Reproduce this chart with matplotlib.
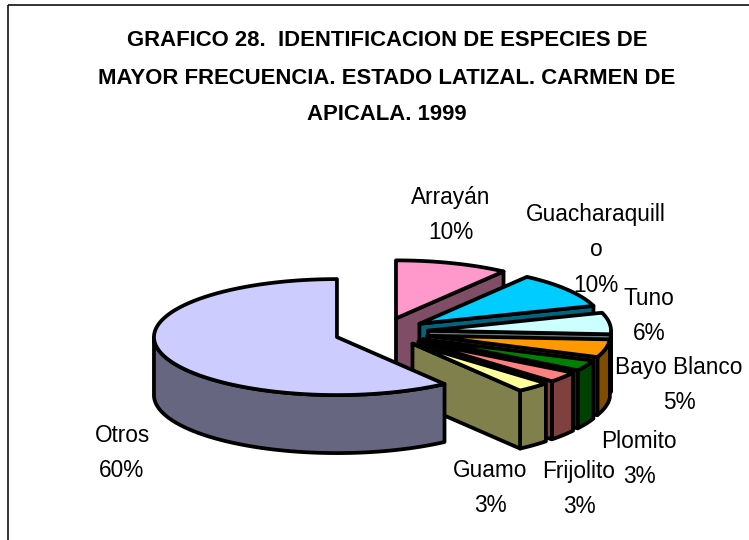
import numpy as np
import matplotlib
matplotlib.use("Agg")
import matplotlib.pyplot as plt
from matplotlib.patches import Polygon, Rectangle

# --- DATA ---
species = ["Arrayán", "Guacharaquill\no", "Tuno", "Bayo Blanco", "Plomito", "Frijolito", "Guamo", "Otros"]
percent = [10, 10, 6, 5, 3, 3, 3, 60]
title_lines = [
    "GRAFICO 28.  IDENTIFICACION DE ESPECIES DE",
    "MAYOR FRECUENCIA. ESTADO LATIZAL. CARMEN DE",
    "APICALA. 1999",
]

top_colors = ["#FF99CC", "#00CCFF", "#CCFFFF", "#FF9900", "#008000", "#FF8080", "#FFFF99", "#CCCCFF"]
side_colors = ["#804D66", "#006680", "#668080", "#804D00", "#004000", "#804040", "#80804D", "#666680"]

# label centres in pixels
label_x = [451, 596, 649, 679, 639, 579, 490, 122]
label_y = [215, 250, 316, 385, 459, 489, 488, 453]

# pie geometry in pixels
cx, cy = 381.5, 332.5
rx, ry = 183, 58
depth = 58
explode = 0.256
lw = 2.7


def arc(x0, y0, a1, a2, dz=0):
    # angles in degrees, clockwise from north
    t = np.radians(np.linspace(a1, a2, 80))
    return np.column_stack([x0 + rx * np.sin(t), y0 - ry * np.cos(t) + dz])


plt.rcParams["font.family"] = ["Liberation Sans"]
fig = plt.figure(figsize=(7.49, 5.4), dpi=100)
ax = fig.add_axes([0, 0, 1, 1])
ax.set_xlim(0, 749)
ax.set_ylim(540, 0)
ax.axis("off")

ax.add_patch(Rectangle((8, 5), 800, 600, fill=False, ec="#111111", lw=1.2))

edges = np.concatenate([[0], np.cumsum(percent)]) * 3.6
for i in range(len(percent)):
    a1, a2 = edges[i], edges[i + 1]
    mid = np.radians((a1 + a2) / 2)
    x0 = cx + explode * rx * np.sin(mid)
    y0 = cy - explode * ry * np.cos(mid)

    # outer wall, only the part facing the viewer
    w1, w2 = max(a1, 90), min(a2, 270)
    if w2 > w1:
        pts = np.vstack([arc(x0, y0, w1, w2), arc(x0, y0, w1, w2, depth)[::-1]])
        ax.add_patch(Polygon(pts, fc=side_colors[i], ec="black", lw=lw, joinstyle="round"))

    # cut face at the clockwise end of the slice
    if a2 < 180:
        p = arc(x0, y0, a2, a2)[0]
        pts = [(x0, y0), p, (p[0], p[1] + depth), (x0, y0 + depth)]
        ax.add_patch(Polygon(pts, fc=side_colors[i], ec="black", lw=lw, joinstyle="round"))

    pts = np.vstack([[(x0, y0)], arc(x0, y0, a1, a2)])
    ax.add_patch(Polygon(pts, fc=top_colors[i], ec="black", lw=lw, joinstyle="round"))

for line, y in zip(title_lines, [40, 78, 115]):
    ax.text(387, y, line, ha="center", va="center", fontsize=15.9, fontweight="bold", color="black")

for name, p, x, y in zip(species, percent, label_x, label_y):
    ax.text(x, y, f"{name}\n{p}%", ha="center", va="center", fontsize=16.3,
            linespacing=1.7, color="black")

fig.savefig("out.png", dpi=100)
